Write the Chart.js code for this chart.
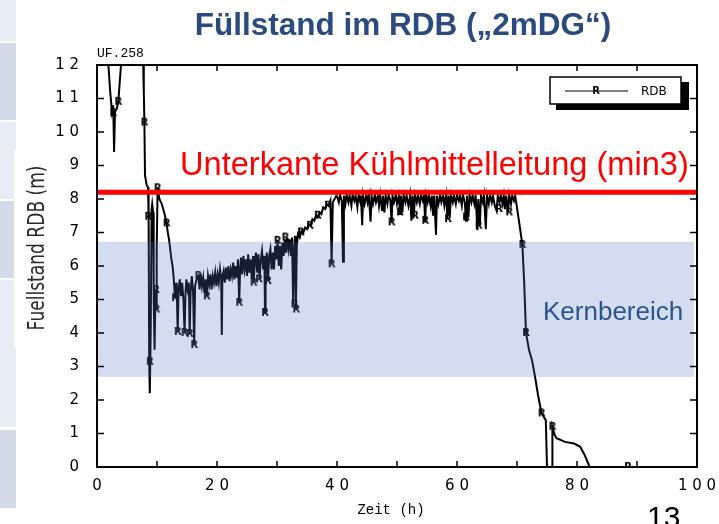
<!DOCTYPE html>
<html>
<head>
<meta charset="utf-8">
<script src="https://cdn.jsdelivr.net/npm/chart.js@4.4.1/dist/chart.umd.min.js"></script>
<style>
html, body { margin: 0; padding: 0; background: #fff; overflow: hidden; }
#wrap { position: relative; width: 719px; height: 524px; }
.strip { position: absolute; left: 0; }
.light { background: #e8ecf4; }
.dark { background: #d4dbe8; }
#chart { position: absolute; left: 0; top: 0; }
</style>
</head>
<body>
<div id="wrap">
  <div class="strip light" style="top:0;height:41px;width:16px"></div>
  <div class="strip dark" style="top:43px;height:77px;width:16px"></div>
  <div class="strip light" style="top:122px;height:28px;width:16px"></div>
  <div class="strip light" style="top:150px;height:49px;width:14px"></div>
  <div class="strip dark" style="top:201px;height:77px;width:14px"></div>
  <div class="strip light" style="top:280px;height:68px;width:14px"></div>
  <div class="strip light" style="top:348px;height:79px;width:16px"></div>
  <div class="strip dark" style="top:430px;height:78px;width:16px"></div>
  <canvas id="chart" width="719" height="524"></canvas>
</div>
<script>
/*////////////////////////////// data //////////////////////////////////*/

// RDB level trace, time in h, level in m
const timeH = [
  // filling / first drop
  0, 1.9, 2.2, 2.5, 2.7, 2.85, 3.0, 3.3, 3.55, 4.0, 7.7, 7.8, 7.9, 8.0, 8.3, 8.5, 8.55, 8.65, 8.7, 8.8,
  8.95, 9.1, 9.2, 9.35, 9.45, 9.6, 9.75, 9.85, 9.95, 10.1, 10.4, 10.8, 11.2, 11.6, 11.8, 12.0, 12.2, 12.4, 12.6, 12.8, 13.0,
  // low phase
  13.2, 13.3, 13.45, 13.6, 13.8, 14.0, 14.2, 14.4, 14.6, 14.75, 14.9, 15.1, 15.3, 15.45, 15.6, 15.8, 16.0, 16.2, 16.35, 16.6,
  16.9, 17.1, 17.3, 17.5, 17.7, 17.9, 18.1, 18.3, 18.5, 18.7, 18.9, 19.1, 19.3, 19.5, 19.7, 19.9, 20.1, 20.3, 20.5, 20.7,
  20.8, 20.9, 21.1,
  // slow rise
  21.3, 21.5, 21.7, 21.9, 22.1, 22.3, 22.5, 22.7, 22.9, 23.1, 23.3, 23.5, 23.7, 23.85, 24.0, 24.2, 24.4, 24.6, 24.8, 25.0,
  25.2, 25.4, 25.6, 25.8, 26.0, 26.1, 26.3, 26.5, 26.7, 26.9, 27.1, 27.3, 27.5, 27.7, 27.9, 28.0, 28.1, 28.3, 28.5, 28.7,
  28.9, 29.1, 29.3, 29.5, 29.7, 29.9, 30.1, 30.3, 30.5, 30.7, 30.9, 31.1, 31.3, 31.5, 31.7, 31.9, 32.1, 32.3, 32.5, 32.7,
  32.85, 33.0, 33.15, 33.3, 33.5, 33.8, 34.1, 34.4, 34.7, 35.0, 35.3, 35.6, 35.9, 36.2, 36.5, 36.8, 37.1, 37.4, 37.7, 38.0,
  38.3, 38.6, 38.9, 39.1, 39.3, 39.6, 39.9,
  // plateau under the line
  40.0, 40.3, 40.5, 40.8, 41.0, 41.15, 41.4, 41.6, 41.9, 42.1, 42.4, 42.6, 42.9, 43.1, 43.4, 43.6, 43.9, 44.0, 44.2, 44.35,
  44.6, 44.9, 45.1, 45.3, 45.6, 45.75, 46.0, 46.3, 46.5, 46.8, 47.0, 47.2, 47.5, 47.65, 47.9, 48.1, 48.4, 48.6, 48.9, 49.1,
  49.25, 49.5, 49.8, 50.0, 50.3, 50.5, 50.65, 50.9, 51.1, 51.4, 51.6, 51.9, 52.2, 52.4, 52.6, 52.8, 53.0, 53.3, 53.5, 53.8,
  54.0, 54.3, 54.5, 54.7, 54.85, 55.1, 55.3, 55.6, 55.8, 56.0, 56.2, 56.5, 56.65, 56.9, 57.2, 57.4, 57.7, 57.9, 58.2, 58.4,
  58.6, 58.8, 59.0, 59.3, 59.5, 59.8, 60.0, 60.3, 60.5, 60.8, 61.0, 61.3, 61.5, 61.65, 61.9, 62.1, 62.4, 62.6, 62.9, 63.1,
  63.4, 63.55, 63.8, 64.0, 64.3, 64.5, 64.8, 65.0, 65.3, 65.5, 65.8, 66.0, 66.3, 66.6, 66.8, 67.1, 67.3, 67.6, 67.8, 68.0,
  68.2, 68.5, 68.7, 69.0, 69.2, 69.5, 69.7,
  // drain
  70.2, 70.9, 71.2, 71.5, 72.0, 72.5, 73.0, 73.5, 74.1, 74.8, 75.0, 75.9, 75.9, 76.3, 76.6, 78.0, 79.5, 80.5, 81.3, 82.1, 100
];
const levelM = [
  12, 12, 11.2, 10.6, 10.8, 9.4, 10.6, 10.7, 10.9, 12, 12, 11.2, 10.3, 8.7, 8.4, 8.35, 7.5, 7.6, 3.1, 2.2,
  4.0, 7.7, 7.85, 7.6, 5.0, 3.5, 5.3, 4.7, 6.5, 8.33, 8.0, 7.85, 7.6, 7.27, 7.0, 6.8, 6.5, 6.2, 6.0, 5.6, 5.04,
  5.5, 5.2, 4.03, 5.3, 5.6, 5.1, 5.5, 5.0, 4.0, 5.2, 5.6, 5.3, 5.5, 3.97, 5.2, 5.7, 5.3, 3.64, 5.4, 5.6,
  5.7, 5.3, 5.75, 5.4, 5.65, 5.2, 5.6, 5.1, 5.7, 5.45, 5.75, 5.3, 5.7, 5.5, 5.8, 5.4, 5.75, 5.5, 5.9, 5.6,
  3.94, 5.7, 5.85,
  5.5, 5.95, 5.6, 6.0, 5.55, 5.9, 5.7, 6.1, 5.6, 6.0, 5.65, 6.2, 4.9, 5.9, 6.25, 5.75, 6.3, 5.9, 6.2, 5.7,
  6.35, 5.8, 6.2, 5.6, 6.3, 5.5, 6.1, 6.4, 5.8, 6.35, 5.6, 6.2, 6.45, 5.9, 6.3, 4.6, 6.0, 6.4, 5.55, 6.3,
  6.5, 5.9, 6.4, 5.9, 6.6, 6.2, 6.75, 6.0, 6.6, 5.9, 6.7, 6.3, 6.8, 6.4, 6.85, 6.5, 6.8, 6.3, 6.85, 4.85,
  6.5, 6.9, 4.7, 6.6, 6.95, 6.85, 7.05, 7.0, 7.15, 7.1, 7.25, 7.2, 7.4, 7.35, 7.5, 7.45, 7.6, 7.55, 7.75, 7.7,
  7.85, 7.8, 7.95, 6.05, 7.9, 8.0, 8.1,
  8.08, 7.9, 8.12, 7.95, 6.13, 8.1, 7.85, 8.12, 7.9, 8.1, 7.8, 8.12, 7.95, 8.1, 7.75, 8.12, 7.9, 8.1, 7.22, 8.1,
  7.85, 8.12, 7.9, 8.1, 7.32, 8.1, 7.85, 8.12, 7.9, 8.1, 7.8, 8.12, 7.67, 8.1, 7.6, 8.1, 7.85, 8.12, 7.95, 7.3,
  8.1, 7.9, 8.12, 7.85, 8.1, 7.55, 8.1, 7.6, 8.12, 7.9, 8.1, 7.8, 8.12, 7.35, 8.1, 7.45, 8.12, 7.9, 8.1, 7.85,
  8.12, 7.95, 8.1, 7.3, 8.1, 7.9, 8.12, 7.8, 8.1, 7.5, 8.1, 6.93, 8.1, 7.85, 8.12, 7.9, 8.1, 7.8, 8.12, 7.4,
  8.1, 7.5, 8.12, 7.9, 8.1, 7.85, 8.12, 7.95, 8.1, 7.8, 8.12, 7.9, 7.35, 8.1, 7.45, 8.12, 7.9, 8.1, 7.85, 8.12,
  7.07, 8.0, 7.2, 8.1, 7.9, 8.12, 7.1, 8.1, 7.85, 8.12, 7.9, 8.1, 7.8, 7.65, 8.1, 7.9, 8.12, 7.85, 8.1, 7.7,
  8.1, 7.6, 8.12, 7.85, 8.1, 7.95, 8.1,
  7.5, 6.63, 5.5, 4.0, 3.5, 3.19, 2.7, 2.15, 1.6, 1.4, 0, 0, 1.2, 0.95, 0.86, 0.75, 0.7, 0.61, 0.35, 0, 0
];

// "R" symbols along the curve
const markTimeH = [2.7, 3.55, 7.9, 8.55, 8.8, 9.83, 9.9, 10.1, 11.6, 13.0, 13.45, 14.6, 15.45, 16.2, 16.9, 18.3,
  23.7, 26.1, 27.0, 28.0, 28.5, 30.1, 31.4, 32.9, 33.2, 34.0, 35.5, 36.8, 38.5, 39.1,
  49.1, 50.5, 53.0, 54.7, 58.5, 61.5, 63.6, 67.0, 68.7, 70.9, 71.5, 74.1, 75.9, 88.5];
const markLevelM = [10.56, 10.9, 10.28, 7.47, 3.14, 5.28, 4.7, 8.32, 7.27, 5.04, 4.03, 4.0, 3.97, 3.64, 5.7, 5.09,
  4.9, 5.5, 5.6, 4.6, 5.55, 6.75, 6.85, 4.85, 4.7, 7.0, 7.2, 7.5, 7.8, 6.05,
  7.3, 7.6, 7.5, 7.35, 7.4, 7.45, 7.2, 7.7, 7.6, 6.63, 4.0, 1.6, 1.2, 0.0];

const minLevel = 8.2;            // Unterkante Kühlmittelleitung
const kernBand = [2.69, 6.72];   // Kernbereich

const xTickLabels = ['0', '', '2 0', '', '4 0', '', '6 0', '', '8 0', '', '1 0 0'];
const yTickLabels = ['0', '1', '2', '3', '4', '5', '6', '7', '8', '9', '1 0', '1 1', '1 2'];

/*////////////////////////////// drawing //////////////////////////////////*/

const rMark = document.createElement('canvas');
rMark.width = 12;
rMark.height = 12;
const rc = rMark.getContext('2d');
rc.font = 'bold 10px "DejaVu Sans"';
rc.textAlign = 'center';
rc.textBaseline = 'middle';
rc.fillStyle = '#000';
rc.fillText('R', 6, 6.5);

function line(ctx, x1, y1, x2, y2) {
    ctx.beginPath();
    ctx.moveTo(x1, y1);
    ctx.lineTo(x2, y2);
    ctx.stroke();
}

const decor = {
    id: 'decor',
    afterDatasetsDraw(chart) {
        const { ctx, chartArea: a, scales: { y } } = chart;
        const yt = y.getPixelForValue(kernBand[1]);
        const yb = y.getPixelForValue(kernBand[0]);
        ctx.save();
        ctx.fillStyle = 'rgba(80,120,192,0.25)';
        ctx.fillRect(a.left + 1, yt, a.right - a.left - 4, yb - yt);
        ctx.restore();
    },
    afterDraw(chart) {
        const { ctx, chartArea: a, scales: { x, y } } = chart;
        ctx.save();

        // frame and inward ticks
        ctx.strokeStyle = '#000';
        ctx.lineWidth = 1.5;
        x.ticks.forEach(t => {
            const px = x.getPixelForValue(t.value);
            line(ctx, px, a.bottom, px, a.bottom - 6);
            line(ctx, px, a.top, px, a.top + 6);
        });
        y.ticks.forEach(t => {
            const py = y.getPixelForValue(t.value);
            line(ctx, a.left, py, a.left + 7, py);
            line(ctx, a.right, py, a.right - 7, py);
        });
        ctx.lineWidth = 2;
        ctx.strokeRect(a.left, a.top, a.right - a.left, a.bottom - a.top);

        // legend box
        ctx.fillStyle = '#000';
        ctx.fillRect(556, 82, 133, 28);
        ctx.fillStyle = '#fff';
        ctx.fillRect(550, 77, 131, 27);
        ctx.lineWidth = 1.5;
        ctx.strokeRect(550, 77, 131, 27);
        ctx.lineWidth = 1;
        line(ctx, 565, 91, 628, 91);
        ctx.drawImage(rMark, 590, 85);
        ctx.fillStyle = '#000';
        ctx.font = '12px "DejaVu Sans"';
        ctx.textAlign = 'left';
        ctx.textBaseline = 'alphabetic';
        ctx.fillText('RDB', 641, 95);

        // texts
        ctx.fillStyle = '#2a4b7f';
        ctx.font = 'bold 31.5px "Liberation Sans"';
        ctx.textAlign = 'center';
        ctx.fillText('Füllstand im RDB („2mDG“)', 403, 35);

        ctx.fillStyle = '#000';
        ctx.font = '13px "Liberation Mono"';
        ctx.textAlign = 'left';
        ctx.fillText('UF.258', 97, 57);

        ctx.font = '14px "Liberation Mono"';
        ctx.textAlign = 'center';
        ctx.fillText('Zeit (h)', 391, 514);

        ctx.fillStyle = '#ff0000';
        ctx.font = '32.6px "Liberation Sans"';
        ctx.textAlign = 'left';
        ctx.fillText('Unterkante Kühlmittelleitung (min3)', 180, 175);

        ctx.fillStyle = '#2e5391';
        ctx.font = '26px "Liberation Sans"';
        ctx.fillText('Kernbereich', 543, 320);

        ctx.fillStyle = '#000';
        ctx.font = '30px "Liberation Sans"';
        ctx.fillText('13', 647, 527);

        // y axis title, tall narrow glyphs
        ctx.font = '16px "DejaVu Sans"';
        ctx.fillStyle = '#2b2b2b';
        const yTitle = 'Fuellstand RDB (m)';
        const w = ctx.measureText(yTitle).width;
        ctx.translate(38, 248);
        ctx.rotate(-Math.PI / 2);
        ctx.scale(165 / w, 1.45);
        ctx.textAlign = 'center';
        ctx.textBaseline = 'middle';
        ctx.fillText(yTitle, 0, 0);

        ctx.restore();
    }
};

const ctx = document.getElementById('chart').getContext('2d');
new Chart(ctx, {
    type: 'line',
    data: {
        datasets: [
            {
                label: 'min3',
                data: [{ x: 0, y: minLevel }, { x: 100, y: minLevel }],
                borderColor: '#ff0000',
                borderWidth: 5,
                pointRadius: 0,
                order: 0
            },
            {
                label: 'R',
                data: markTimeH.map((t, i) => ({ x: t, y: markLevelM[i] })),
                showLine: false,
                pointStyle: rMark,
                pointRadius: 5,
                order: 1
            },
            {
                label: 'RDB',
                data: timeH.map((t, i) => ({ x: t, y: levelM[i] })),
                borderColor: '#000',
                borderWidth: 2,
                pointRadius: 0,
                tension: 0,
                order: 2
            }
        ]
    },
    options: {
        responsive: false,
        animation: false,
        layout: { padding: { top: 65, right: 22, left: 0, bottom: 0 } },
        scales: {
            x: {
                type: 'linear',
                min: 0,
                max: 100,
                grid: { display: false },
                border: { display: false },
                ticks: {
                    stepSize: 10,
                    autoSkip: false,
                    maxRotation: 0,
                    padding: 2,
                    color: '#000',
                    font: { family: 'DejaVu Sans', size: 15 },
                    callback: v => xTickLabels[Math.round(v / 10)] || ''
                },
                afterFit: s => { s.height = 57; }
            },
            y: {
                min: 0,
                max: 12,
                grid: { display: false },
                border: { display: false },
                ticks: {
                    stepSize: 1,
                    padding: 10,
                    color: '#000',
                    font: { family: 'DejaVu Sans', size: 15 },
                    callback: v => yTickLabels[Math.round(v)]
                },
                afterFit: s => { s.width = 97; }
            }
        },
        plugins: {
            legend: { display: false },
            tooltip: { enabled: false }
        }
    },
    plugins: [decor]
});
</script>
</body>
</html>
